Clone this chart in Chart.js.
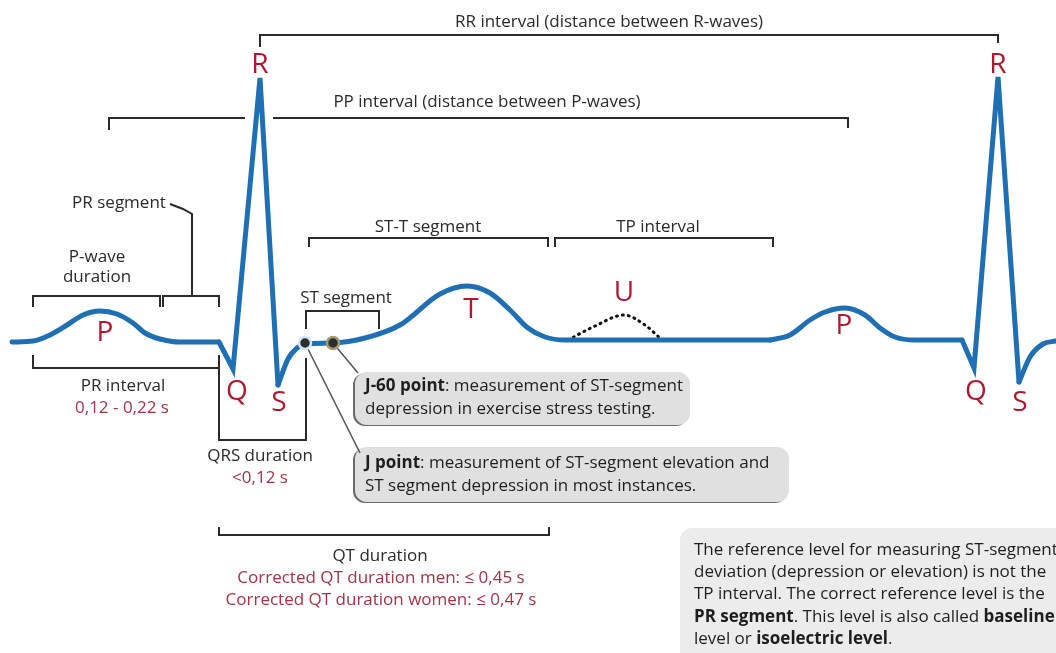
<!DOCTYPE html>
<html>
<head>
<meta charset="utf-8">
<script src="https://cdn.jsdelivr.net/npm/chart.js@4.4.1/dist/chart.umd.min.js"></script>
<style>
  html,body{margin:0;padding:0;background:#fff;}
  canvas{display:block;}
</style>
</head>
<body>
<canvas id="ecg" width="1056" height="653"></canvas>
<script>
// x = time (diagram units), y = amplitude, 0 = isoelectric line
const pWave1 = [[12,1],[33,2],[50,8],[67,18],[83,28],[100,32],[117,29],[133,20],[145,10],[160,4],[180,1],[219,1]];
const qrs1 = [[219,1],[233,-26],[260,265],[278,-42]];
const stTWave = [[278,-42],[288,-16],[297,-5],[305,-1],[332,0],[365,5],[400,18],[440,49],[467,57],[490,50],[510,33],[528,15],[545,6],[565,3],[770,3]];
const uWave = [[568,3],[595,17],[624,28],[645,18],[662,3]];
const pWave2 = [[770,3],[790,8],[810,23],[825,31],[845,35],[865,28],[880,15],[895,6],[915,3],[962,3]];
const qrs2 = [[962,3],[974,-25],[998,266],[1019,-39]];
const tail2 = [[1019,-39],[1030,-14],[1043,-1],[1056,2]];
const jPoints = [[305,0],[333,0]];

// brackets (same units), null breaks the line
const rrBracket = [[260,296],[260,308],[998,308],[998,300]];
const ppBracket = [[109,213],[109,225],[245,225],[259,null],[273,225],[848,225],[848,215]];
const stTBracket = [[309,96],[309,105],[548,105],[548,96]];
const tpBracket = [[555,96],[555,105],[773,105],[773,96]];
const pDurBracket = [[33,36],[33,47],[160,47],[160,36]];
const prSegBracket = [[163,36],[163,47],[219,47],[219,36]];
const prSegLeader = [[170,139],[183,134],[192,129],[192,47]];
const stSegBracket = [[306,14],[306,32],[379,32],[379,14]];
const prIntBracket = [[33,-12],[33,-25],[219,-25],[219,-12]];
const qrsBracket = [[219,-17],[219,-97],[306,-97],[306,-15]];
const qtBracket = [[219,-184],[219,-192],[549,-192],[549,-184]];
const j60Leader = [[333,0],[358,-30]];
const jLeader = [[305,0],[360,-110]];

// text
const waveLetters = [['R',260,278],['R',998,278],['P',105,10],['T',471,33],['U',624,50],['P',844,17],['Q',237,-49],['S',279,-60],['Q',976,-49],['S',1020,-60]];
const blackLabels = [
  ['RR interval (distance between R-waves)',609,321],
  ['PP interval (distance between P-waves)',487,241],
  ['ST-T segment',428,116],
  ['TP interval',658,116],
  ['PR segment',119,140],
  ['P-wave',97,86],
  ['duration',97,66],
  ['ST segment',346,45],
  ['PR interval',123,-43],
  ['QRS duration',260,-113],
  ['QT duration',380,-213]
];
const redLabels = [
  ['0,12 - 0,22 s',122,-65],
  ['<0,12 s',260,-135],
  ['Corrected QT duration men: ≤ 0,45 s',381,-235],
  ['Corrected QT duration women: ≤ 0,47 s',381,-257]
];
const noteJ60 = [[['J-60 point',true],[': measurement of ST-segment',false]],[['depression in exercise stress testing.',false]]];
const noteJ = [[['J point',true],[': measurement of ST-segment elevation and',false]],[['ST segment depression in most instances.',false]]];
const noteBaseline = [
  [['The reference level for measuring ST-segment',false]],
  [['deviation (depression or elevation) is not the',false]],
  [['TP interval. The correct reference level is the',false]],
  [['PR segment',true],['. This level is also called ',false],['baseline',true]],
  [['level or ',false],['isoelectric level',true],['.',false]]
];

const TRACE = '#1f6fb4';
const INK = '#2a2a2a';
const RED = '#b0182f';
const RED_SOFT = '#a83246';
const FONT = '"Open Sans", "Noto Sans", sans-serif';

function pts(arr){
  return arr.map(([x,y]) => ({x, y}));
}

function line(arr, opts){
  return Object.assign({
    data: pts(arr),
    showLine: true,
    pointRadius: 0,
    borderColor: INK,
    borderWidth: 2,
    tension: 0,
    fill: false
  }, opts || {});
}

const smooth = {borderColor: TRACE, borderWidth: 5, cubicInterpolationMode: 'monotone', borderCapStyle: 'round'};
const sharp = {borderColor: TRACE, borderWidth: 5, borderJoinStyle: 'miter', borderCapStyle: 'round'};

const datasets = [
  {
    data: pts(jPoints),
    showLine: false,
    pointRadius: 6,
    pointBorderWidth: 2.5,
    pointBackgroundColor: '#2d2d2d',
    pointBorderColor: ['#cfe9f5','#a09a72']
  },
  line(pWave1, smooth),
  line(qrs1, sharp),
  line(stTWave, smooth),
  line(pWave2, smooth),
  line(qrs2, sharp),
  line(tail2, smooth),
  line(uWave, {borderColor: '#111', borderWidth: 3, borderDash: [1,5], borderCapStyle: 'round', cubicInterpolationMode: 'monotone'}),
  line(j60Leader, {borderColor: '#555', borderWidth: 1.5}),
  line(jLeader, {borderColor: '#555', borderWidth: 1.5}),
  line(rrBracket), line(ppBracket), line(stTBracket), line(tpBracket),
  line(pDurBracket), line(prSegBracket), line(prSegLeader), line(stSegBracket),
  line(prIntBracket), line(qrsBracket), line(qtBracket)
];

function roundRect(ctx, x, y, w, h, r){
  ctx.beginPath();
  ctx.moveTo(x + r, y);
  ctx.arcTo(x + w, y, x + w, y + h, r);
  ctx.arcTo(x + w, y + h, x, y + h, r);
  ctx.arcTo(x, y + h, x, y, r);
  ctx.arcTo(x, y, x + w, y, r);
  ctx.closePath();
}

function drawRuns(ctx, runs, x, y, size){
  let cx = x;
  runs.forEach(([t, bold]) => {
    ctx.font = (bold ? '700 ' : '400 ') + size + 'px ' + FONT;
    ctx.fillText(t, cx, y);
    cx += ctx.measureText(t).width;
  });
}

const notesPlugin = {
  id: 'notes',
  beforeDatasetsDraw(chart){
    const ctx = chart.ctx;
    const X = v => chart.scales.x.getPixelForValue(v);
    const Y = v => chart.scales.y.getPixelForValue(v);
    ctx.save();
    // callout boxes
    [[355,-29,690,-82],[355,-104,789,-159]].forEach(([x1,y1,x2,y2]) => {
      roundRect(ctx, X(x1) - 2, Y(y1) + 1, X(x2) - X(x1), Y(y2) - Y(y1), 12);
      ctx.fillStyle = '#6a6a6a';
      ctx.fill();
      roundRect(ctx, X(x1), Y(y1), X(x2) - X(x1), Y(y2) - Y(y1), 12);
      ctx.fillStyle = '#e0e0e0';
      ctx.fill();
    });
    roundRect(ctx, X(680), Y(-185), X(1070) - X(680), Y(-330) - Y(-185), 12);
    ctx.fillStyle = '#ececec';
    ctx.fill();
    ctx.restore();
  },
  afterDatasetsDraw(chart){
    const ctx = chart.ctx;
    const X = v => chart.scales.x.getPixelForValue(v);
    const Y = v => chart.scales.y.getPixelForValue(v);
    ctx.save();
    ctx.textBaseline = 'middle';
    ctx.textAlign = 'center';
    ctx.fillStyle = RED;
    ctx.font = '400 28px ' + FONT;
    waveLetters.forEach(([t,x,y]) => ctx.fillText(t, X(x), Y(y)));
    ctx.fillStyle = INK;
    ctx.font = '400 17px ' + FONT;
    blackLabels.forEach(([t,x,y]) => ctx.fillText(t, X(x), Y(y)));
    ctx.fillStyle = RED_SOFT;
    redLabels.forEach(([t,x,y]) => ctx.fillText(t, X(x), Y(y)));
    ctx.textAlign = 'left';
    ctx.fillStyle = '#1e1e1e';
    [[noteJ60,365,-43],[noteJ,365,-120]].forEach(([lines,x,y]) => {
      lines.forEach((runs,i) => drawRuns(ctx, runs, X(x), Y(y) + i*23, 17));
    });
    noteBaseline.forEach((runs,i) => drawRuns(ctx, runs, X(694), Y(-207) + i*22.3, 17));
    ctx.restore();
  }
};

new Chart(document.getElementById('ecg'), {
  type: 'scatter',
  data: {datasets},
  options: {
    responsive: false,
    animation: false,
    layout: {padding: 0, autoPadding: false},
    plugins: {legend: {display: false}, tooltip: {enabled: false}},
    scales: {
      x: {type: 'linear', min: 0, max: 1056, display: false},
      y: {type: 'linear', min: -310, max: 343, display: false}
    }
  },
  plugins: [notesPlugin]
});
</script>
</body>
</html>
